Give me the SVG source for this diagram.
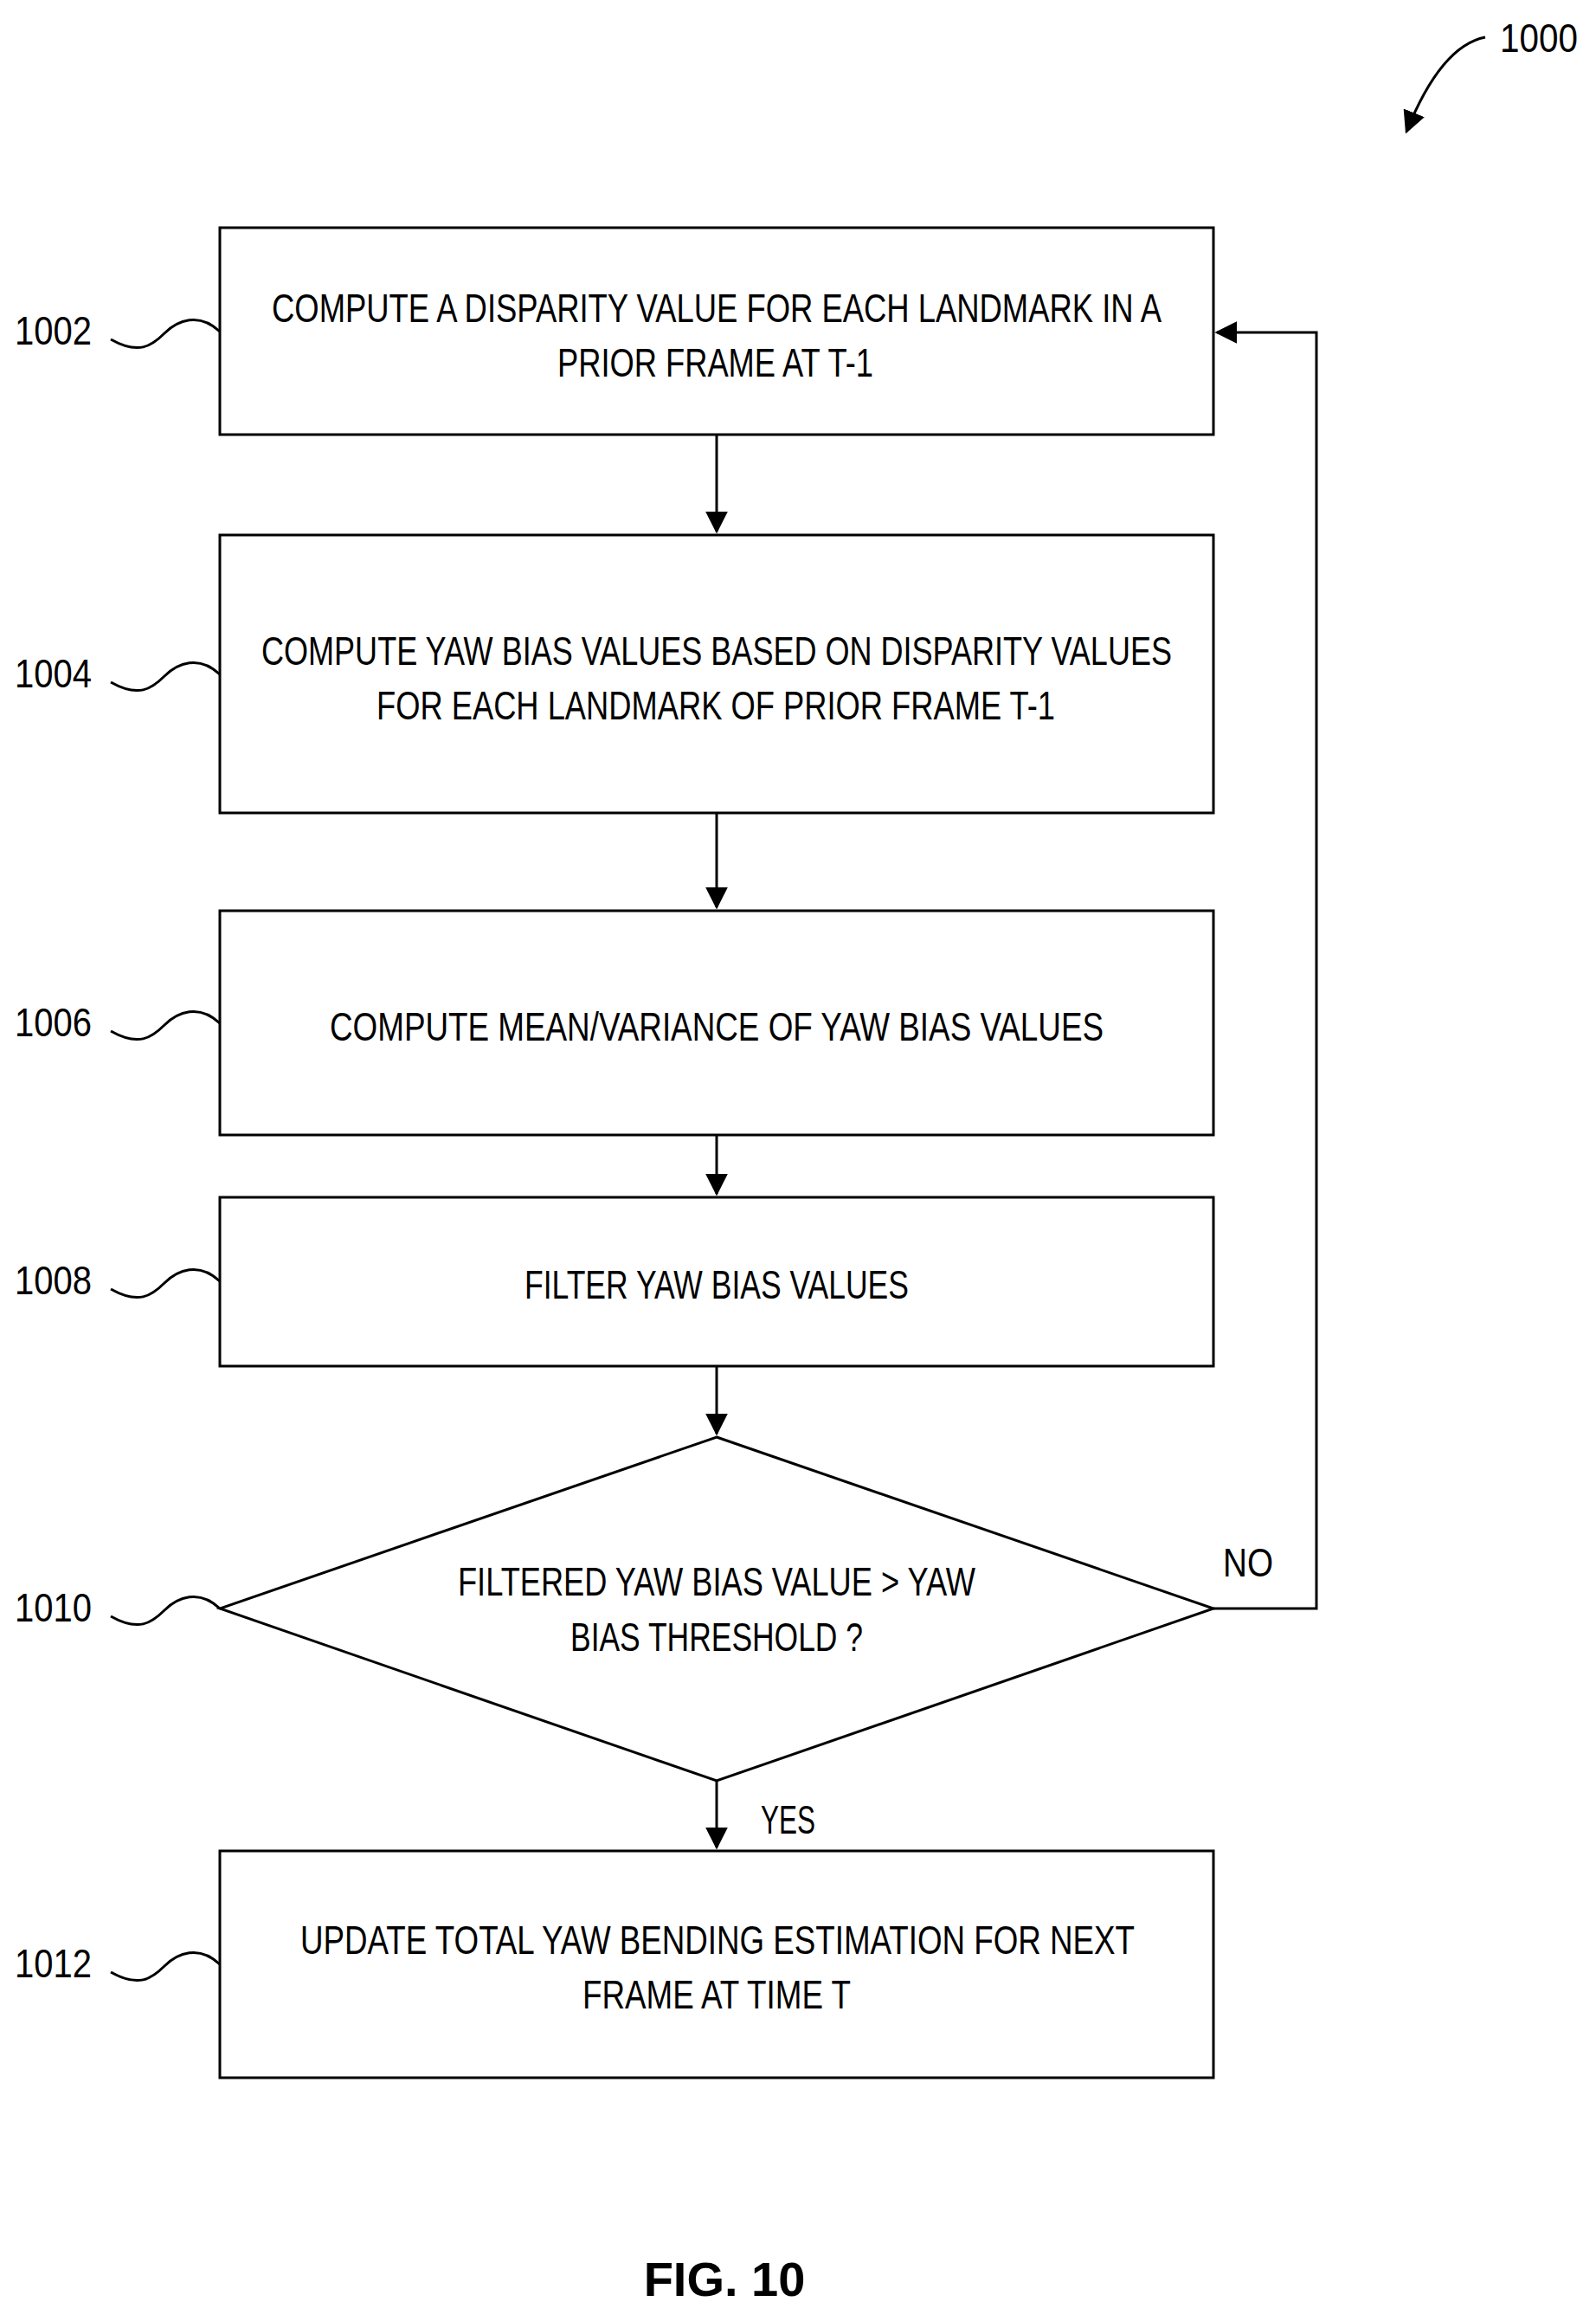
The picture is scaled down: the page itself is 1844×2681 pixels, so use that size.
<svg xmlns="http://www.w3.org/2000/svg" width="1844" height="2681" viewBox="0 0 1844 2681">
<style>
.b{fill:#fff;stroke:#000;stroke-width:3}
.t{font-family:"Liberation Sans",sans-serif;font-size:46px;fill:#000;text-anchor:start}
.c{fill:none;stroke:#000;stroke-width:3}
</style>
<defs><marker id="a" markerWidth="10" markerHeight="10" refX="9" refY="5" orient="auto" markerUnits="userSpaceOnUse" viewBox="0 0 10 10"><path d="M0,0L10,5L0,10z"/></marker>
<marker id="A" viewBox="0 0 10 10" refX="9" refY="5" markerWidth="26" markerHeight="26" orient="auto" markerUnits="userSpaceOnUse"><path d="M0,0L10,5L0,10z"/></marker></defs>
<rect width="1844" height="2681" fill="#fff"/>
<g id="connectors">
<path class="c" d="M828 502V614" marker-end="url(#A)"/>
<path class="c" d="M828 939V1048" marker-end="url(#A)"/>
<path class="c" d="M828 1311V1379" marker-end="url(#A)"/>
<path class="c" d="M828 1578V1656" marker-end="url(#A)"/>
<path class="c" d="M828 2057V2134" marker-end="url(#A)"/>
<path class="c" d="M1402 1858H1521V384H1406" marker-end="url(#A)"/>
<text class="t" x="1413" y="1821" textLength="58" lengthAdjust="spacingAndGlyphs">NO</text>
<text class="t" x="879" y="2118" textLength="63" lengthAdjust="spacingAndGlyphs">YES</text>
</g>
<g id="n1000"><text class="t" x="1733" y="60" textLength="90" lengthAdjust="spacingAndGlyphs">1000</text><path class="c" d="M1716 43C1680 50 1650 90 1625 152" marker-end="url(#A)"/></g>
<g id="n1002"><rect class="b" x="254" y="263" width="1148" height="239"/>
<text class="t" x="314" y="372" textLength="1028" lengthAdjust="spacingAndGlyphs">COMPUTE A DISPARITY VALUE FOR EACH LANDMARK IN A</text>
<text class="t" x="644" y="435" textLength="365" lengthAdjust="spacingAndGlyphs">PRIOR FRAME AT T-1</text>
<text class="t" x="17" y="398" textLength="89" lengthAdjust="spacingAndGlyphs">1002</text>
<path class="c" d="M128 392C160 410 175 400 190 385S230 360 254 383"/></g>
<g id="n1004"><rect class="b" x="254" y="618" width="1148" height="321"/>
<text class="t" x="302" y="768" textLength="1052" lengthAdjust="spacingAndGlyphs">COMPUTE YAW BIAS VALUES BASED ON DISPARITY VALUES</text>
<text class="t" x="435" y="831" textLength="784" lengthAdjust="spacingAndGlyphs">FOR EACH LANDMARK OF PRIOR FRAME T-1</text>
<text class="t" x="17" y="794" textLength="89" lengthAdjust="spacingAndGlyphs">1004</text>
<path class="c" d="M128 788C160 806 175 796 190 781S230 756 254 779"/></g>
<g id="n1006"><rect class="b" x="254" y="1052" width="1148" height="259"/>
<text class="t" x="381" y="1202" textLength="894" lengthAdjust="spacingAndGlyphs">COMPUTE MEAN/VARIANCE OF YAW BIAS VALUES</text>
<text class="t" x="17" y="1197" textLength="89" lengthAdjust="spacingAndGlyphs">1006</text>
<path class="c" d="M128 1191C160 1209 175 1199 190 1184S230 1159 254 1182"/></g>
<g id="n1008"><rect class="b" x="254" y="1383" width="1148" height="195"/>
<text class="t" x="606" y="1500" textLength="444" lengthAdjust="spacingAndGlyphs">FILTER YAW BIAS VALUES</text>
<text class="t" x="17" y="1495" textLength="89" lengthAdjust="spacingAndGlyphs">1008</text>
<path class="c" d="M128 1489C160 1507 175 1497 190 1482S230 1457 254 1480"/></g>
<g id="n1010"><path class="b" d="M828 1660L1402 1858L828 2057L254 1858Z"/>
<text class="t" x="529" y="1843" textLength="598" lengthAdjust="spacingAndGlyphs">FILTERED YAW BIAS VALUE &gt; YAW</text>
<text class="t" x="659" y="1907" textLength="338" lengthAdjust="spacingAndGlyphs">BIAS THRESHOLD ?</text>
<text class="t" x="17" y="1873" textLength="89" lengthAdjust="spacingAndGlyphs">1010</text>
<path class="c" d="M128 1867C160 1885 175 1875 190 1860S230 1835 254 1858"/></g>
<g id="n1012"><rect class="b" x="254" y="2138" width="1148" height="262"/>
<text class="t" x="347" y="2257" textLength="964" lengthAdjust="spacingAndGlyphs">UPDATE TOTAL YAW BENDING ESTIMATION FOR NEXT</text>
<text class="t" x="673" y="2320" textLength="310" lengthAdjust="spacingAndGlyphs">FRAME AT TIME T</text>
<text class="t" x="17" y="2284" textLength="89" lengthAdjust="spacingAndGlyphs">1012</text>
<path class="c" d="M128 2278C160 2296 175 2286 190 2271S230 2246 254 2269"/></g>
<text x="837" y="2652" font-family="Liberation Sans,sans-serif" font-weight="bold" font-size="56" text-anchor="middle">FIG. 10</text>
</svg>
